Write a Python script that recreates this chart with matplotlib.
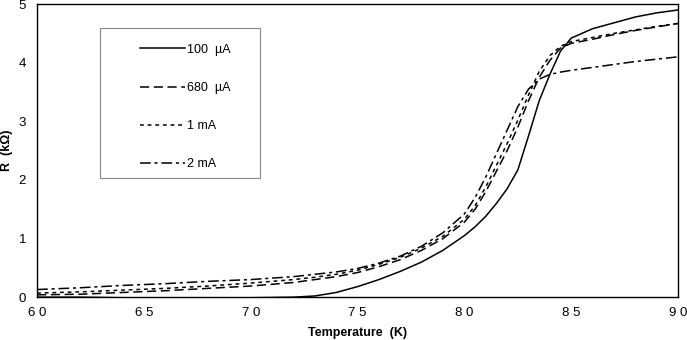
import numpy as np
import matplotlib
matplotlib.use("Agg")
import matplotlib.pyplot as plt
from matplotlib.patches import Rectangle

plt.rcParams['font.family'] = ['Liberation Sans', 'DejaVu Sans']

# temperature grid (K)
temp = [60, 62, 64, 66, 68, 70, 72, 73, 74, 75, 76, 77, 78, 79, 80, 80.5,
        81, 81.5, 82, 82.5, 83, 83.5, 84, 84.5, 85, 86, 87, 88, 89, 90]

# resistance (kOhm) for each bias current
r_100uA = [0.0, 0.0, -0.01, -0.02, -0.02, -0.01, 0.0, 0.02, 0.08, 0.18, 0.30, 0.44,
           0.60, 0.80, 1.05, 1.20, 1.38, 1.60, 1.85, 2.17, 2.75, 3.35, 3.80, 4.20,
           4.42, 4.58, 4.68, 4.78, 4.85, 4.90]
r_680uA = [0.04, 0.05, 0.08, 0.11, 0.15, 0.19, 0.25, 0.30, 0.35, 0.42, 0.52, 0.64,
           0.80, 1.00, 1.28, 1.50, 1.80, 2.15, 2.50, 2.90, 3.35, 3.75, 4.04, 4.25,
           4.33, 4.40, 4.48, 4.55, 4.61, 4.67]
r_1mA = [0.07, 0.09, 0.12, 0.15, 0.19, 0.24, 0.30, 0.34, 0.39, 0.46, 0.56, 0.68,
         0.84, 1.04, 1.33, 1.56, 1.88, 2.25, 2.62, 3.02, 3.45, 3.85, 4.12, 4.28,
         4.36, 4.43, 4.50, 4.56, 4.62, 4.67]
r_2mA = [0.13, 0.16, 0.20, 0.23, 0.27, 0.30, 0.35, 0.39, 0.43, 0.49, 0.58, 0.70,
         0.87, 1.10, 1.42, 1.70, 2.05, 2.45, 2.85, 3.25, 3.55, 3.72, 3.80, 3.84,
         3.87, 3.92, 3.97, 4.02, 4.06, 4.10]

labels = ["100  \u00b5A", "680  \u00b5A", "1 mA", "2 mA"]
xticks = [60, 65, 70, 75, 80, 85, 90]
xtick_labels = ["6 0", "6 5", "7 0", "7 5", "8 0", "8 5", "9 0"]
yticks = [0, 1, 2, 3, 4, 5]

fig = plt.figure(figsize=(6.87, 3.40), dpi=100)
ax = fig.add_axes([0.054, 0.126, 0.933, 0.862])

lw = 1.1
ax.plot(temp, r_100uA, color='black', lw=lw, ls='-', label=labels[0])
ax.plot(temp, r_680uA, color='black', lw=lw, ls=(0, (6, 3)), label=labels[1])
ax.plot(temp, r_1mA, color='black', lw=lw, ls=(0, (2.5, 2.5)), label=labels[2])
ax.plot(temp, r_2mA, color='black', lw=lw, ls=(0, (7, 2.5, 2, 2.5)), label=labels[3])

ax.set_xlim(60, 90)
ax.set_ylim(0, 5)
ax.set_xticks(xticks)
ax.set_xticklabels(xtick_labels)
ax.set_yticks(yticks)
ax.tick_params(axis='both', length=0, labelsize=9.5)
ax.tick_params(axis='y', pad=8)
ax.tick_params(axis='x', pad=7)
for s in ax.spines.values():
    s.set_linewidth(1.0)
    s.set_color('black')

ax.set_xlabel("Temperature  (K)", fontsize=9, fontweight='bold', labelpad=6)
ax.set_ylabel("R  (k\u03a9)", fontsize=9, fontweight='bold')
ax.yaxis.set_label_coords(-0.038, 0.5)

# legend box
ax.add_patch(Rectangle((0.098, 0.405), 0.25, 0.515, transform=ax.transAxes,
                       fill=False, edgecolor='#888888', lw=0.8))
ax.legend(loc='upper left', bbox_to_anchor=(0.16, 0.865), frameon=False,
          fontsize=9, handlelength=3.6, handletextpad=0.15,
          labelspacing=2.1, borderaxespad=0, borderpad=0)

fig.savefig("out.png", dpi=100)
